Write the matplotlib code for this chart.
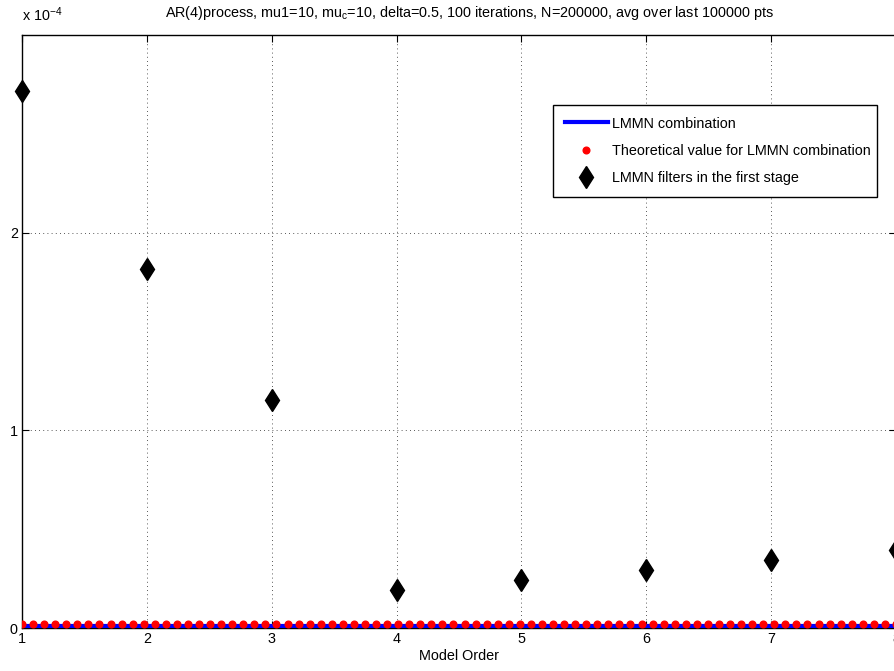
import numpy as np
import matplotlib
matplotlib.use("Agg")
import matplotlib.pyplot as plt
from matplotlib.ticker import FuncFormatter
from matplotlib.patches import Rectangle

plt.rcParams["font.family"] = ["Liberation Sans", "DejaVu Sans"]
plt.rcParams["mathtext.fontset"] = "custom"
plt.rcParams["mathtext.rm"] = "Liberation Sans"
plt.rcParams["mathtext.it"] = "Liberation Sans"

# Mean-square error vs model order
model_order = [1, 2, 3, 4, 5, 6, 7, 8]
first_stage = [2.717e-4, 1.818e-4, 1.152e-4, 0.192e-4, 0.242e-4, 0.293e-4, 0.343e-4, 0.394e-4]
combo_x = np.linspace(1, 8, 80)
combo_value = 1.0e-6
theory_value = 2.0e-6

FS = 10.4
W, H = 895, 671

fig = plt.figure(figsize=(W / 100, H / 100), dpi=100)
ax = fig.add_axes([22 / W, 43 / H, 874 / W, 593 / H])

l1, = ax.plot(combo_x, np.full_like(combo_x, combo_value), color="#0000ff", lw=3,
              label="LMMN combination", zorder=3)
l2, = ax.plot(combo_x, np.full_like(combo_x, theory_value), ls="none", marker="o",
              ms=4.8, color="#ff0000", mec="#ff0000", label="Theoretical value for LMMN combination",
              zorder=4)
l3, = ax.plot(model_order, first_stage, ls="none", marker="d", ms=11.5, color="black",
              label="LMMN filters in the first stage", zorder=5, clip_on=False)

ax.set_xlim(1, 8)
ax.set_ylim(0, 3e-4)
ax.set_xticks(model_order)
ax.set_yticks([0, 1e-4, 2e-4])
ax.yaxis.set_major_formatter(FuncFormatter(lambda v, p: f"{v / 1e-4:g}"))
ax.tick_params(direction="in", length=5, width=0.8, top=True, right=True,
               labelsize=FS, pad=3)
ax.grid(True, ls=(0, (1, 4)), color="#222222", lw=0.6)
for s in ax.spines.values():
    s.set_linewidth(1.0)

ax.set_xlabel("Model Order", fontsize=FS, labelpad=2)
ax.set_title(r"AR(4)process, mu1=10, mu$_\mathrm{c}$=10, delta=0.5, 100 iterations, "
             r"N=200000, avg over last 100000 pts", fontsize=FS, pad=13,
             x=(469 - 22) / 874)
fig.text(22 / W, 1 - 15 / H, r"x 10$^{-4}$", fontsize=FS, ha="left", va="center")

# Legend box with a tight right margin, drawn as a separate white frame
box = Rectangle((553 / W, 1 - 197 / H), (877 - 553) / W, (197 - 105) / H,
                transform=fig.transFigure, facecolor="white", edgecolor="black",
                lw=1.0, zorder=10)
fig.add_artist(box)

leg = ax.legend(handles=[l1, l2, l3], loc="upper left",
                bbox_to_anchor=(553 / W, 1 - 105 / H), bbox_transform=fig.transFigure,
                fontsize=10.4, frameon=False,
                handlelength=3.0, borderpad=0.8, labelspacing=0.92, handletextpad=0.3,
                borderaxespad=0, markerscale=1.0)
leg.set_zorder(11)
fig.add_artist(leg)

fig.savefig("out.png", dpi=100)
